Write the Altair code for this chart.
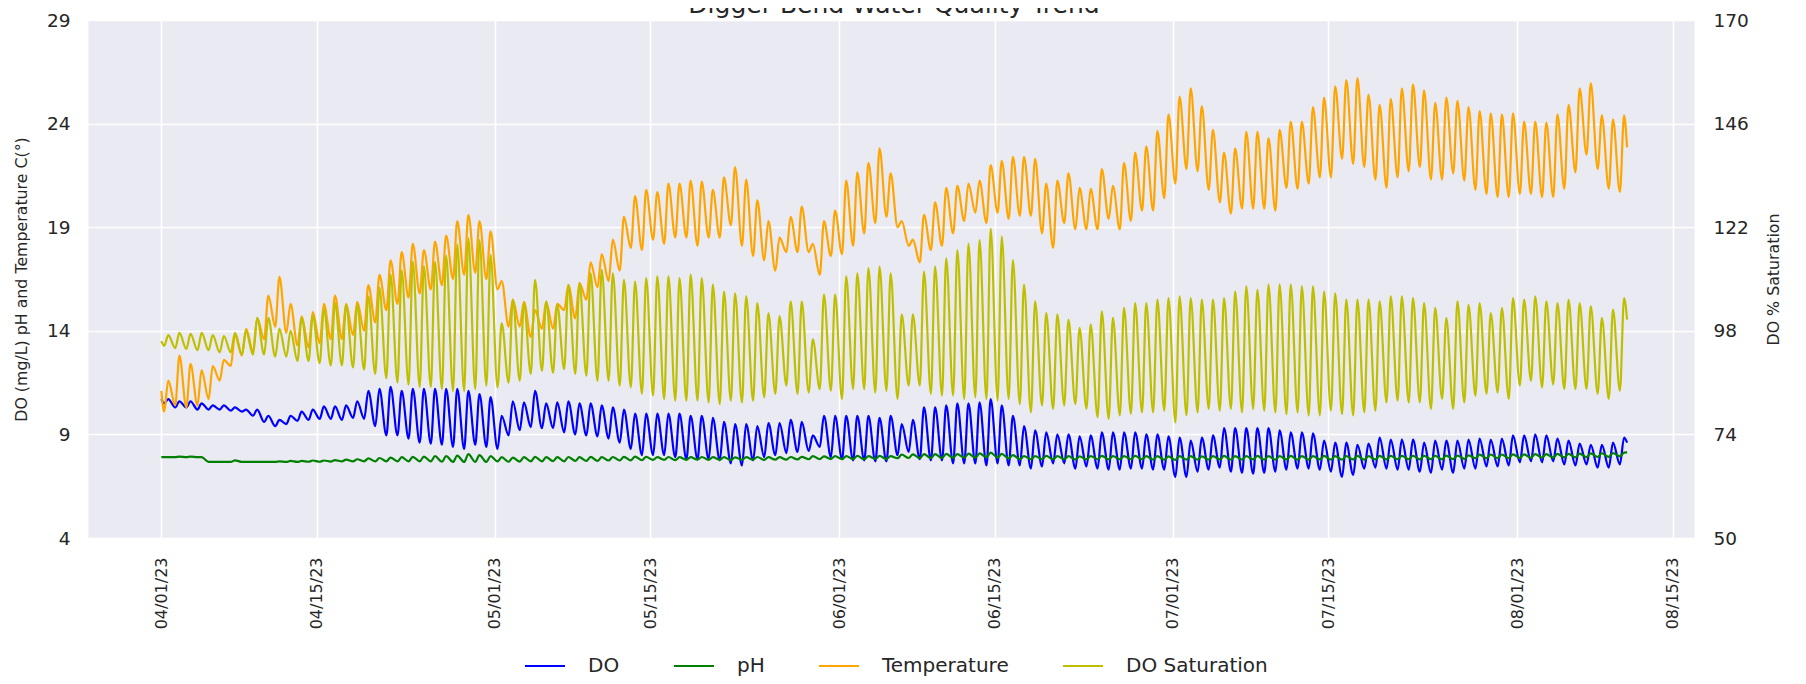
import altair as alt
import pandas as pd

# ---- values (daily low / high of each series) ----
temp_low = [10.1, 10.4, 10.3, 10.4, 10.7, 11.6, 12.3, 12.8, 13.0, 13.6,
            14.2, 13.9, 13.3, 13.2, 13.4, 13.6, 13.6, 13.8, 14.0, 14.4,
            15.0, 15.3, 15.6, 15.8, 16.0, 16.2, 16.5, 16.7, 16.8, 16.5,
            16.0, 14.2, 14.2, 13.7, 14.1, 14.1, 15.0, 14.6, 15.5, 16.1,
            16.4, 16.9, 18.0, 17.9, 18.4, 18.2, 18.5, 18.5, 18.1, 18.5,
            18.5, 19.1, 18.1, 17.6, 17.4, 16.9, 17.8, 17.8, 17.8, 16.7,
            17.6, 17.7, 18.1, 18.7, 19.2, 19.5, 19.0, 18.1, 17.3, 17.9,
            18.1, 18.7, 19.3, 19.7, 19.2, 19.7, 19.4, 19.55, 19.55, 18.7,
            18.0, 19.2, 18.9, 18.9, 18.9, 19.4, 18.9, 19.3, 19.8, 19.8,
            20.4, 21.1, 21.8, 21.7, 20.8, 20.2, 19.65, 19.9, 19.9, 19.9,
            19.8, 20.9, 20.85, 21.1, 21.4, 21.4, 22.3, 22.05, 21.9, 21.3,
            20.9, 21.4, 21.7, 21.9, 21.3, 21.3, 21.6, 21.25, 20.8, 20.6,
            20.45, 20.45, 20.6, 20.6, 20.45, 20.45, 20.85, 21.65, 22.5, 21.8,
            20.85, 20.7]
temp_high = [11.6, 12.8, 12.4, 12.1, 12.3, 12.6, 13.8, 14.1, 14.6, 15.7,
             16.6, 15.3, 14.7, 14.9, 15.3, 15.7, 15.3, 15.4, 16.2, 16.7,
             17.4, 17.8, 18.2, 17.9, 18.3, 18.6, 19.3, 19.6, 19.3, 18.8,
             16.4, 15.5, 15.4, 15.0, 15.4, 15.3, 16.2, 16.3, 17.3, 17.7,
             18.4, 19.5, 20.5, 20.8, 20.7, 21.1, 21.1, 21.25, 21.2, 20.8,
             21.4, 21.9, 21.3, 20.3, 19.3, 18.5, 19.5, 20.0, 18.2, 19.3,
             19.8, 21.25, 21.65, 22.1, 22.8, 21.6, 19.3, 18.4, 19.6, 20.2,
             20.9, 21.0, 21.1, 21.25, 22.0, 22.2, 22.4, 22.4, 22.3, 21.1,
             21.25, 21.6, 20.9, 20.85, 21.8, 21.0, 22.1, 22.6, 22.9, 23.65,
             24.45, 25.3, 25.7, 24.85, 23.7, 22.6, 22.8, 23.6, 23.6, 23.3,
             23.7, 24.1, 24.1, 24.8, 25.25, 25.8, 26.1, 26.2, 25.4, 24.9,
             25.2, 25.7, 25.9, 25.6, 25.0, 25.25, 25.1, 24.8, 24.6, 24.5,
             24.45, 24.5, 24.1, 24.1, 24.05, 24.45, 24.9, 25.7, 25.95, 24.4,
             24.2, 24.4]

sat_low = [94.5, 94.0, 93.8, 93.5, 93.5, 93.0, 93.0, 92.5, 92.5, 92.5,
           92.0, 92.0, 91.0, 91.0, 90.5, 90.0, 90.0, 89.5, 89.0, 88.0,
           87.0, 86.0, 85.5, 85.0, 85.0, 84.5, 84.0, 84.0, 84.5, 85.3,
           84.9, 86.0, 86.4, 88.0, 88.7, 88.3, 89.1, 88.0, 87.6, 86.4,
           86.4, 85.3, 84.9, 83.4, 83.0, 82.2, 81.8, 81.8, 81.8, 81.4,
           81.0, 81.8, 81.4, 81.8, 82.6, 83.4, 85.3, 83.4, 83.7, 84.5,
           84.1, 82.2, 84.5, 84.5, 83.7, 84.1, 82.2, 85.3, 85.3, 83.4,
           83.0, 83.0, 82.2, 82.6, 82.2, 81.8, 82.2, 81.0, 79.1, 80.7,
           79.9, 80.7, 81.0, 79.9, 78.0, 77.6, 78.4, 78.8, 79.1, 79.1,
           79.5, 76.8, 78.4, 79.1, 79.9, 79.5, 79.9, 79.1, 79.9, 79.5,
           79.1, 78.7, 79.1, 78.4, 78.4, 79.5, 78.7, 78.4, 79.1, 79.5,
           81.4, 81.8, 81.4, 81.4, 79.9, 82.2, 79.9, 81.4, 83.0, 83.4,
           83.7, 82.2, 85.3, 86.4, 84.9, 85.6, 84.5, 84.5, 84.5, 83.4,
           82.2, 84.1]
sat_high = [97.0, 97.5, 97.3, 97.5, 97.0, 96.8, 97.5, 98.0, 101.0, 101.0,
            98.5, 98.0, 101.0, 101.5, 103.0, 104.5, 104.0, 104.0, 106.0, 108.0,
            111.0, 112.0, 114.0, 113.0, 114.0, 115.5, 118.0, 119.5, 119.0, 115.6,
            99.8, 105.2, 104.4, 109.8, 104.8, 104.0, 108.7, 109.0, 111.3, 112.1,
            111.3, 109.8, 109.4, 110.2, 110.6, 110.6, 110.2, 111.0, 110.2, 108.7,
            107.1, 106.7, 106.0, 104.4, 102.1, 101.4, 104.8, 104.8, 96.0, 106.4,
            106.4, 110.6, 111.3, 112.5, 112.9, 111.3, 101.8, 101.8, 111.7, 112.9,
            114.8, 116.7, 118.2, 119.0, 121.7, 119.8, 114.4, 108.7, 104.8, 102.1,
            101.8, 100.6, 98.7, 99.5, 102.5, 101.0, 103.3, 104.4, 104.4, 105.2,
            105.6, 106.0, 105.6, 105.2, 105.2, 105.6, 107.1, 108.3, 107.5, 108.7,
            108.7, 108.7, 108.3, 108.3, 107.1, 106.7, 105.2, 105.2, 105.2, 104.8,
            106.0, 106.0, 105.6, 104.4, 103.3, 101.0, 104.8, 104.0, 104.4, 102.1,
            103.3, 105.6, 105.2, 106.0, 104.8, 104.4, 105.2, 104.4, 103.7, 101.0,
            102.9, 105.6]

do_low = [10.5, 10.3, 10.3, 10.2, 10.2, 10.2, 10.15, 10.1, 9.9, 9.6,
          9.4, 9.5, 9.65, 9.7, 9.75, 9.75, 9.7, 9.8, 9.75, 9.4,
          8.95, 8.95, 8.8, 8.6, 8.55, 8.5, 8.4, 8.3, 8.5, 8.4,
          8.3, 8.95, 9.2, 9.35, 9.3, 9.3, 9.1, 9.0, 8.95, 8.9,
          8.8, 8.6, 8.3, 8.0, 8.0, 8.0, 7.9, 7.8, 7.8, 7.8,
          7.75, 7.6, 7.5, 7.75, 7.9, 8.0, 8.1, 8.15, 8.2, 8.4,
          7.9, 7.8, 7.75, 7.75, 7.7, 7.7, 8.0, 8.15, 7.8, 7.75,
          7.75, 7.6, 7.6, 7.6, 7.5, 7.6, 7.5, 7.5, 7.35, 7.45,
          7.6, 7.6, 7.35, 7.45, 7.35, 7.3, 7.3, 7.35, 7.35, 7.3,
          7.3, 6.95, 6.95, 7.2, 7.3, 7.4, 7.2, 7.15, 7.1, 7.15,
          7.2, 7.3, 7.35, 7.35, 7.3, 7.2, 6.95, 7.05, 7.35, 7.4,
          7.35, 7.3, 7.3, 7.2, 7.15, 7.3, 7.15, 7.35, 7.35, 7.45,
          7.45, 7.5, 7.65, 7.7, 7.65, 7.7, 7.55, 7.5, 7.55, 7.4,
          7.4, 7.55]
do_high = [10.7, 10.6, 10.6, 10.5, 10.4, 10.4, 10.3, 10.2, 10.2, 9.9,
           9.7, 9.9, 10.1, 10.2, 10.35, 10.35, 10.4, 10.6, 11.1, 11.2,
           11.3, 11.1, 11.2, 11.2, 11.2, 11.2, 11.2, 11.1, 10.95, 10.8,
           9.9, 10.6, 10.55, 11.1, 10.5, 10.55, 10.6, 10.5, 10.5, 10.4,
           10.3, 10.2, 10.0, 10.0, 10.0, 10.0, 10.0, 9.9, 9.9, 9.8,
           9.6, 9.5, 9.5, 9.4, 9.55, 9.55, 9.7, 9.6, 8.95, 9.9,
           9.9, 9.9, 9.9, 9.9, 9.8, 9.9, 9.5, 9.7, 10.3, 10.3,
           10.4, 10.5, 10.5, 10.55, 10.7, 10.4, 9.9, 9.4, 9.2, 9.1,
           9.0, 9.0, 8.9, 8.95, 9.1, 9.1, 9.1, 9.1, 9.0, 9.0,
           8.9, 8.85, 8.7, 8.85, 8.95, 9.3, 9.3, 9.3, 9.3, 9.3,
           9.2, 9.1, 9.1, 9.05, 8.7, 8.6, 8.6, 8.5, 8.55, 8.85,
           8.75, 8.75, 8.75, 8.6, 8.7, 8.7, 8.7, 8.75, 8.8, 8.75,
           8.8, 8.95, 8.95, 9.0, 8.95, 8.8, 8.7, 8.55, 8.5, 8.5,
           8.6, 8.85]

ph_low = [7.90, 7.90, 7.90, 7.90, 7.67, 7.67, 7.67, 7.67, 7.67, 7.67,
          7.67, 7.67, 7.67, 7.68, 7.68, 7.69, 7.70, 7.70, 7.70, 7.70,
          7.70, 7.70, 7.70, 7.70, 7.70, 7.68, 7.67, 7.67, 7.67, 7.67,
          7.70, 7.68, 7.69, 7.70, 7.70, 7.71, 7.70, 7.72, 7.72, 7.72,
          7.74, 7.74, 7.75, 7.76, 7.77, 7.77, 7.76, 7.77, 7.78, 7.77,
          7.77, 7.76, 7.77, 7.78, 7.77, 7.78, 7.78, 7.79, 7.80, 7.80,
          7.81, 7.80, 7.81, 7.80, 7.82, 7.81, 7.85, 7.86, 7.85, 7.86,
          7.86, 7.87, 7.87, 7.88, 7.90, 7.88, 7.84, 7.80, 7.80, 7.81,
          7.80, 7.80, 7.79, 7.80, 7.80, 7.79, 7.80, 7.80, 7.80, 7.78,
          7.78, 7.77, 7.78, 7.78, 7.78, 7.79, 7.78, 7.78, 7.79, 7.78,
          7.78, 7.79, 7.78, 7.78, 7.79, 7.78, 7.78, 7.79, 7.78, 7.79,
          7.79, 7.80, 7.80, 7.79, 7.80, 7.80, 7.81, 7.82, 7.85, 7.85,
          7.86, 7.86, 7.87, 7.87, 7.88, 7.88, 7.89, 7.89, 7.90, 7.91,
          7.92, 7.94]
ph_high = [7.90, 7.93, 7.93, 7.90, 7.67, 7.67, 7.75, 7.67, 7.67, 7.67,
           7.70, 7.72, 7.72, 7.74, 7.74, 7.76, 7.78, 7.80, 7.84, 7.86,
           7.88, 7.90, 7.92, 7.93, 7.95, 7.95, 7.98, 8.05, 8.00, 7.95,
           7.90, 7.88, 7.90, 7.92, 7.90, 7.90, 7.91, 7.90, 7.92, 7.90,
           7.91, 7.92, 7.93, 7.92, 7.90, 7.91, 7.90, 7.90, 7.91, 7.90,
           7.90, 7.89, 7.90, 7.91, 7.90, 7.90, 7.91, 7.92, 7.95, 7.94,
           7.95, 7.95, 7.96, 7.95, 7.96, 7.95, 8.02, 8.04, 8.05, 8.05,
           8.06, 8.05, 8.07, 8.08, 8.12, 8.06, 8.00, 7.95, 7.95, 7.96,
           7.95, 7.95, 7.94, 7.95, 7.96, 7.95, 7.95, 7.96, 7.95, 7.95,
           7.94, 7.95, 7.95, 7.94, 7.95, 7.96, 7.95, 7.95, 7.96, 7.95,
           7.95, 7.96, 7.95, 7.95, 7.96, 7.95, 7.95, 7.96, 7.95, 7.96,
           7.96, 7.96, 7.97, 7.96, 7.97, 7.98, 7.98, 7.99, 8.02, 8.03,
           8.03, 8.04, 8.04, 8.05, 8.05, 8.06, 8.06, 8.07, 8.08, 8.09,
           8.10, 8.12]

# first and last reading of each series
start_vals = {"DO": 10.7, "pH": 7.9, "Temperature": 11.1, "DO Saturation": 95.6}
end_vals = {"DO": 8.6, "pH": 8.13, "Temperature": 22.85, "DO Saturation": 100.6}

series_names = ["DO", "pH", "Temperature", "DO Saturation"]
series_colors = ["#0000ff", "#008000", "#ffa500", "#bfbf00"]
tick_dates = [(4, 1), (4, 15), (5, 1), (5, 15), (6, 1), (6, 15), (7, 1), (7, 15), (8, 1), (8, 15)]
left_ticks = [4, 9, 14, 19, 24, 29]
right_ticks = [50, 74, 98, 122, 146, 170]
chart_title = "Digger Bend Water Quality Trend"

base = pd.Timestamp("2023-04-01")
fmt = "%Y-%m-%dT%H:%M:%S"


def build(name, lows, highs):
    rows = [{"time": base.strftime(fmt), "value": start_vals[name], "series": name}]
    for d, (lo, hi) in enumerate(zip(lows, highs)):
        rows.append({"time": (base + pd.Timedelta(days=d, hours=6)).strftime(fmt), "value": lo, "series": name})
        rows.append({"time": (base + pd.Timedelta(days=d, hours=15)).strftime(fmt), "value": hi, "series": name})
    rows.append({"time": (base + pd.Timedelta(days=131, hours=21, minutes=30)).strftime(fmt),
                 "value": end_vals[name], "series": name})
    return pd.DataFrame(rows)


df_do = build("DO", do_low, do_high)
df_ph = build("pH", ph_low, ph_high)
df_t = build("Temperature", temp_low, temp_high)
df_s = build("DO Saturation", sat_low, sat_high)

FONT = "DejaVu Sans"
TXT = "#262626"

x_enc = alt.X(
    "time:T",
    scale=alt.Scale(domain=[alt.DateTime(year=2023, month=3, date=25, hours=9, minutes=36),
                            alt.DateTime(year=2023, month=8, date=16, hours=22)], nice=False),
    axis=alt.Axis(
        values=[alt.DateTime(year=2023, month=m, date=d) for m, d in tick_dates],
        format="%m/%d/%y", labelAngle=270, labelFont=FONT, labelFontSize=16,
        labelColor=TXT, labelPadding=19, ticks=False, tickSize=0, domain=False,
        grid=True, gridColor="white", gridWidth=1.6, title=None,
    ),
)

color_enc = alt.Color(
    "series:N",
    scale=alt.Scale(domain=series_names, range=series_colors),
    legend=alt.Legend(
        orient="none", legendX=436, legendY=625, direction="horizontal", title=None,
        symbolType="stroke", symbolStrokeWidth=2, symbolSize=1600, labelOffset=22,
        columnPadding=50, labelFontSize=20, labelFont=FONT, labelColor=TXT, padding=0,
    ),
)

left_axis = alt.Axis(
    values=left_ticks, labelFont=FONT, labelFontSize=18.5, labelColor=TXT, labelPadding=18,
    ticks=False, tickSize=0, domain=False, grid=True, gridColor="white", gridWidth=1.6,
    title="DO (mg/L) pH and Temperature C(°)", titleFont=FONT, titleFontSize=15.8,
    titleFontWeight="normal", titleColor=TXT, titleAngle=270, titleBaseline="middle",
    titleAlign="center", titleX=-67, titleY=259,
)


def left_layer(df):
    return alt.Chart(df).mark_line(strokeWidth=2.2, interpolate="monotone").encode(
        x=x_enc,
        y=alt.Y("value:Q", scale=alt.Scale(domain=[4, 29], nice=False, zero=False), axis=left_axis),
        color=color_enc,
    )


left = alt.layer(left_layer(df_do), left_layer(df_ph), left_layer(df_t))

right = alt.Chart(df_s).mark_line(strokeWidth=2.2, interpolate="monotone").encode(
    x=x_enc,
    y=alt.Y(
        "value:Q",
        scale=alt.Scale(domain=[50, 170], nice=False, zero=False),
        axis=alt.Axis(
            orient="right", values=right_ticks, labelFont=FONT, labelFontSize=18.5,
            labelColor=TXT, labelPadding=19, ticks=False, tickSize=0, domain=False, grid=False,
            title="DO % Saturation", titleFont=FONT, titleFontSize=15.8, titleFontWeight="normal",
            titleColor=TXT, titleAngle=270, titleBaseline="middle", titleAlign="center",
            titleX=79, titleY=259,
        ),
    ),
    color=color_enc,
)

# the title sits partly above the top edge of the picture, as in the reference
title_mark = alt.Chart(pd.DataFrame({"t": [chart_title]})).mark_text(
    font=FONT, fontSize=25, color=TXT, align="center", baseline="alphabetic",
).encode(text="t:N", x=alt.value(806), y=alt.value(-7))

chart = alt.layer(left, right, title_mark).resolve_scale(y="independent").properties(
    width=1606,
    height=518,
    autosize=alt.AutoSizeParams(type="none"),
    padding={"left": 80, "top": 12, "right": 104, "bottom": 138},
).configure_view(fill="#EAEAF2", stroke="transparent")

chart.save("out.html", embed_options={"renderer": "svg", "actions": False})
